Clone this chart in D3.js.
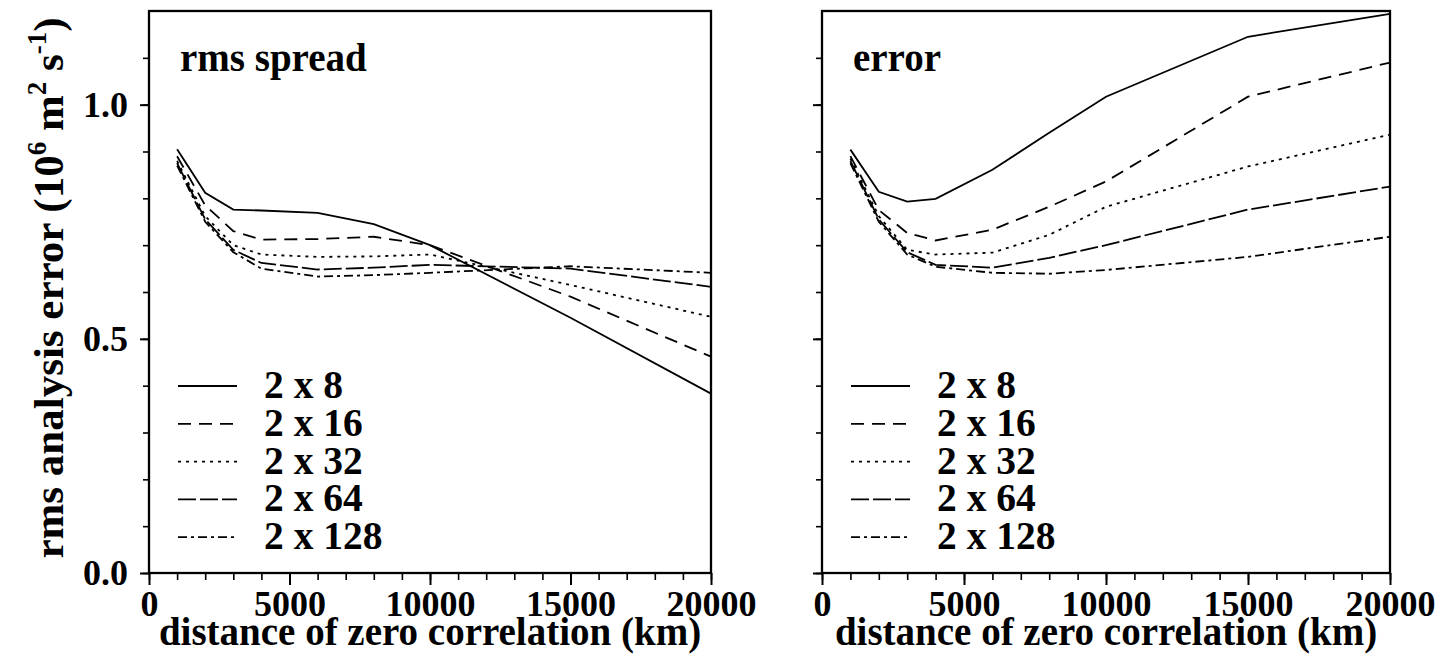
<!DOCTYPE html>
<html>
<head>
<meta charset="utf-8">
<script src="https://cdn.jsdelivr.net/npm/d3@7"></script>
<style>
  body { margin: 0; background: #fff; }
  svg text { font-family: "Liberation Serif", "Times New Roman", serif; font-weight: bold; fill: #000; }
</style>
</head>
<body>
<svg id="chart" width="1442" height="661"></svg>
<script>
// distance of zero correlation (km)
var distances = [1000, 2000, 3000, 4000, 6000, 8000, 10000, 15000, 20000];

var ensembles = ["2 x 8", "2 x 16", "2 x 32", "2 x 64", "2 x 128"];

// rms spread, one row per ensemble size
var spread8   = [0.905, 0.812, 0.776, 0.774, 0.769, 0.745, 0.700, 0.545, 0.383];
var spread16  = [0.890, 0.785, 0.730, 0.712, 0.713, 0.718, 0.700, 0.590, 0.462];
var spread32  = [0.880, 0.762, 0.700, 0.680, 0.675, 0.676, 0.680, 0.615, 0.547];
var spread64  = [0.875, 0.755, 0.690, 0.662, 0.648, 0.652, 0.658, 0.650, 0.611];
var spread128 = [0.870, 0.750, 0.685, 0.650, 0.633, 0.636, 0.641, 0.655, 0.641];

// error
var error8   = [0.904, 0.814, 0.793, 0.799, 0.861, 0.940, 1.017, 1.145, 1.194];
var error16  = [0.890, 0.775, 0.726, 0.710, 0.733, 0.782, 0.836, 1.017, 1.090];
var error32  = [0.885, 0.762, 0.690, 0.680, 0.684, 0.722, 0.782, 0.868, 0.936];
var error64  = [0.880, 0.755, 0.685, 0.658, 0.652, 0.673, 0.700, 0.776, 0.825];
var error128 = [0.875, 0.750, 0.680, 0.654, 0.641, 0.639, 0.647, 0.675, 0.718];

var xTicks = [0, 5000, 10000, 15000, 20000];
var yTicks = [0.0, 0.5, 1.0];

var dashes = ["none", "13,8", "3,5", "18,4", "9,4,3,4"];

var svg = d3.select("#chart");

var plotTop = 11, plotBottom = 573;

var panels = [
  { left: 149, right: 711, title: "rms spread", series: [spread8, spread16, spread32, spread64, spread128], yLabels: true },
  { left: 822, right: 1390, title: "error", series: [error8, error16, error32, error64, error128], yLabels: false }
];

panels.forEach(function(p) {
  var x = d3.scaleLinear().domain([0, 20000]).range([p.left, p.right]);
  var y = d3.scaleLinear().domain([0, 1.2]).range([plotBottom, plotTop]);

  var g = svg.append("g");

  // minor ticks
  g.append("g")
    .attr("transform", `translate(0,${plotBottom})`)
    .call(d3.axisBottom(x).tickValues(d3.range(0, 20001, 1000)).tickSize(7).tickFormat(""))
    .call(a => a.select(".domain").remove())
    .selectAll("line").attr("stroke-width", 1.6);

  g.append("g")
    .attr("transform", `translate(${p.left},0)`)
    .call(d3.axisLeft(y).tickValues(d3.range(0, 12).map(d => d / 10)).tickSize(6).tickFormat(""))
    .call(a => a.select(".domain").remove())
    .selectAll("line").attr("stroke-width", 1.6);

  // major ticks with labels
  var xa = g.append("g")
    .attr("transform", `translate(0,${plotBottom})`)
    .call(d3.axisBottom(x).tickValues(xTicks).tickSize(12).tickPadding(5).tickFormat(d3.format("d")));
  xa.select(".domain").remove();
  xa.selectAll("line").attr("stroke-width", 2);
  xa.selectAll("text").attr("font-size", 36).attr("dy", "0.71em");

  var ya = g.append("g")
    .attr("transform", `translate(${p.left},0)`)
    .call(d3.axisLeft(y).tickValues(yTicks).tickSize(9).tickPadding(12).tickFormat(p.yLabels ? d3.format(".1f") : ""));
  ya.select(".domain").remove();
  ya.selectAll("line").attr("stroke-width", 2);
  ya.selectAll("text").attr("font-size", 36);

  // frame
  g.append("rect")
    .attr("x", p.left).attr("y", plotTop)
    .attr("width", p.right - p.left).attr("height", plotBottom - plotTop)
    .attr("fill", "none").attr("stroke", "#000").attr("stroke-width", 2.3);

  var line = d3.line()
    .x((d, i) => x(distances[i]))
    .y(d => y(d));

  p.series.forEach(function(s, k) {
    g.append("path")
      .datum(s)
      .attr("d", line)
      .attr("fill", "none")
      .attr("stroke", "#000")
      .attr("stroke-width", 1.8)
      .attr("stroke-dasharray", dashes[k]);
  });

  g.append("text")
    .attr("x", p.left + 31).attr("y", 71)
    .attr("font-size", 39)
    .text(p.title);

  // legend
  var leg = g.append("g").attr("transform", `translate(${p.left + 29},386)`);
  ensembles.forEach(function(name, k) {
    var row = leg.append("g").attr("transform", `translate(0,${k * 37.8})`);
    row.append("line")
      .attr("x1", 0).attr("x2", 59)
      .attr("stroke", "#000").attr("stroke-width", 1.8)
      .attr("stroke-dasharray", dashes[k]);
    row.append("text")
      .attr("x", 86).attr("y", 12)
      .attr("font-size", 39.5)
      .text(name);
  });

  svg.append("text")
    .attr("x", (p.left + p.right) / 2).attr("y", 645)
    .attr("text-anchor", "middle")
    .attr("font-size", 39)
    .text("distance of zero correlation (km)");
});

// y axis title
var yt = svg.append("text")
  .attr("transform", "translate(63,288) rotate(-90)")
  .attr("text-anchor", "middle")
  .attr("font-size", 43);
yt.append("tspan").text("rms analysis error (10");
yt.append("tspan").attr("font-size", 27).attr("dy", -17).text("6");
yt.append("tspan").attr("dy", 17).text(" m");
yt.append("tspan").attr("font-size", 27).attr("dy", -17).text("2");
yt.append("tspan").attr("dy", 17).text(" s");
yt.append("tspan").attr("font-size", 27).attr("dy", -17).text("-1");
yt.append("tspan").attr("dy", 17).text(")");
</script>
</body>
</html>
